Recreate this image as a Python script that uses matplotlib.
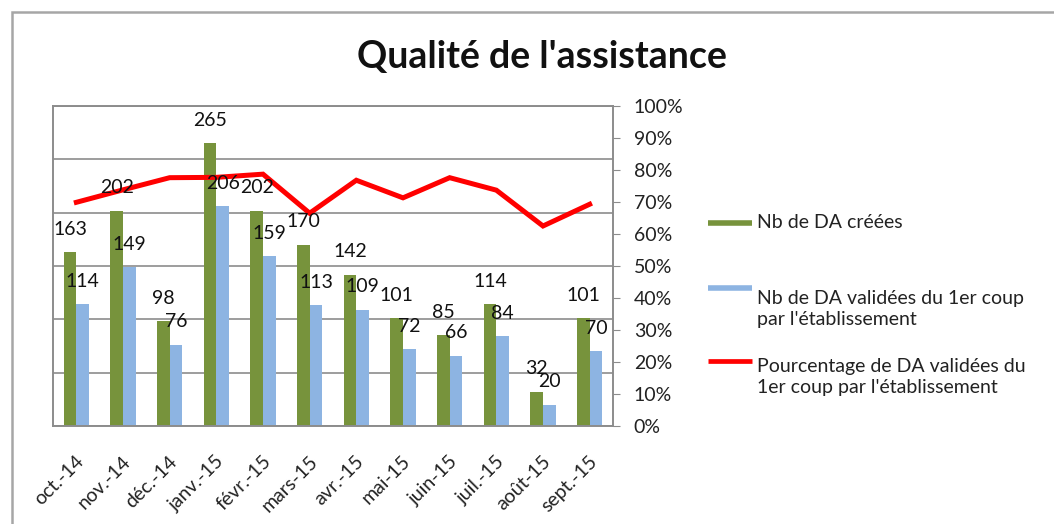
import matplotlib
matplotlib.use('Agg')
import matplotlib.pyplot as plt
from matplotlib.lines import Line2D
from matplotlib.patches import Rectangle
from matplotlib.ticker import PercentFormatter, MultipleLocator
from matplotlib.transforms import ScaledTranslation
import numpy as np

plt.rcParams['font.family'] = ['Lato', 'DejaVu Sans']

# data
months = ['oct.-14', 'nov.-14', 'déc.-14', 'janv.-15', 'févr.-15', 'mars-15',
          'avr.-15', 'mai-15', 'juin-15', 'juil.-15', 'août-15', 'sept.-15']
nb_creees = [163, 202, 98, 265, 202, 170, 142, 101, 85, 114, 32, 101]
nb_validees = [114, 149, 76, 206, 159, 113, 109, 72, 66, 84, 20, 70]
pct_validees = [0.699, 0.738, 0.776, 0.777, 0.787, 0.665, 0.768, 0.713, 0.776, 0.737, 0.625, 0.693]

lab_creees = 'Nb de DA créées'
lab_validees = "Nb de DA validées du 1er coup\npar l'établissement"
lab_pct = "Pourcentage de DA validées du\n1er coup par l'établissement"

GREEN = '#77933C'
BLUE = '#8DB4E2'
RED = '#FF0000'
GRID = '#8C8C8C'
W, H = 1054, 524
FS = 14

fig = plt.figure(figsize=(W / 100, H / 100), dpi=100)
ax = fig.add_axes([53 / W, 1 - 426 / H, 560 / W, 320 / H])
ax2 = ax.twinx()

x = np.arange(len(months))
bw = 0.27
b1 = ax.bar(x - bw / 2, nb_creees, bw, color=GREEN, zorder=2)
b2 = ax.bar(x + bw / 2, nb_validees, bw, color=BLUE, zorder=2)
ax.set_ylim(0, 300)
ax.set_xlim(-0.5, len(months) - 0.5)
ax.yaxis.set_major_locator(MultipleLocator(50))
ax.grid(axis='y', color=GRID, lw=1.2)
ax.set_axisbelow(True)
ax.tick_params(axis='y', left=False, labelleft=False)
ax.tick_params(axis='x', bottom=False, pad=20)
ax.set_xticks(x)
ax.set_xticklabels(months, rotation=45, ha='right', va='center',
                   rotation_mode='anchor', fontsize=FS, color='#222222')
shift = ScaledTranslation(5 / 100, 0, fig.dpi_scale_trans)
for t in ax.get_xticklabels():
    t.set_transform(t.get_transform() + shift)

ax2.plot(x, pct_validees, color=RED, lw=3.6, solid_joinstyle='miter', zorder=3)
ax2.set_ylim(0, 1)
ax2.yaxis.set_major_locator(MultipleLocator(0.1))
ax2.yaxis.set_major_formatter(PercentFormatter(1.0, decimals=0))
ax2.tick_params(axis='y', direction='out', length=5, color=GRID, labelsize=FS,
                labelcolor='#222222', pad=10)

for a in (ax, ax2):
    for s in a.spines.values():
        s.set_color(GRID)
        s.set_linewidth(1.2)

# data labels, drawn on top of the line
for xi, v in zip(x, nb_creees):
    ax2.annotate(str(v), (xi - bw / 2, v), xycoords=ax.transData, xytext=(0, 23),
                 textcoords='offset pixels', ha='center', va='center', fontsize=FS,
                 color='#111111', zorder=5)
for xi, v in zip(x, nb_validees):
    ax2.annotate(str(v), (xi + bw / 2, v), xycoords=ax.transData, xytext=(0, 23),
                 textcoords='offset pixels', ha='center', va='center', fontsize=FS,
                 color='#111111', zorder=5)

fig.text(542 / W, 1 - 57 / H, "Qualité de l'assistance", ha='center', va='center',
         fontsize=27, fontweight='bold', color='#111111')

# legend to the right of the plot
entries = [(223, GREEN, 4, lab_creees, 223),
           (288, BLUE, 4, lab_validees, 309),
           (361, RED, 3.4, lab_pct, 377)]
for yk, col, lw, lab, yt in entries:
    fig.add_artist(Line2D([708 / W, 752 / W], [1 - yk / H, 1 - yk / H],
                          transform=fig.transFigure, color=col, lw=lw,
                          solid_capstyle='butt'))
    fig.text(757 / W, 1 - yt / H, lab, ha='left', va='center', fontsize=FS,
             color='#222222', linespacing=1.25)

# chart frame
fig.add_artist(Rectangle((12 / W, -0.05), 1.1, 1 - 12 / H + 0.05,
                         transform=fig.transFigure, fill=False,
                         edgecolor='#A6A6A6', lw=1.8))

fig.savefig('out.png', dpi=100)
